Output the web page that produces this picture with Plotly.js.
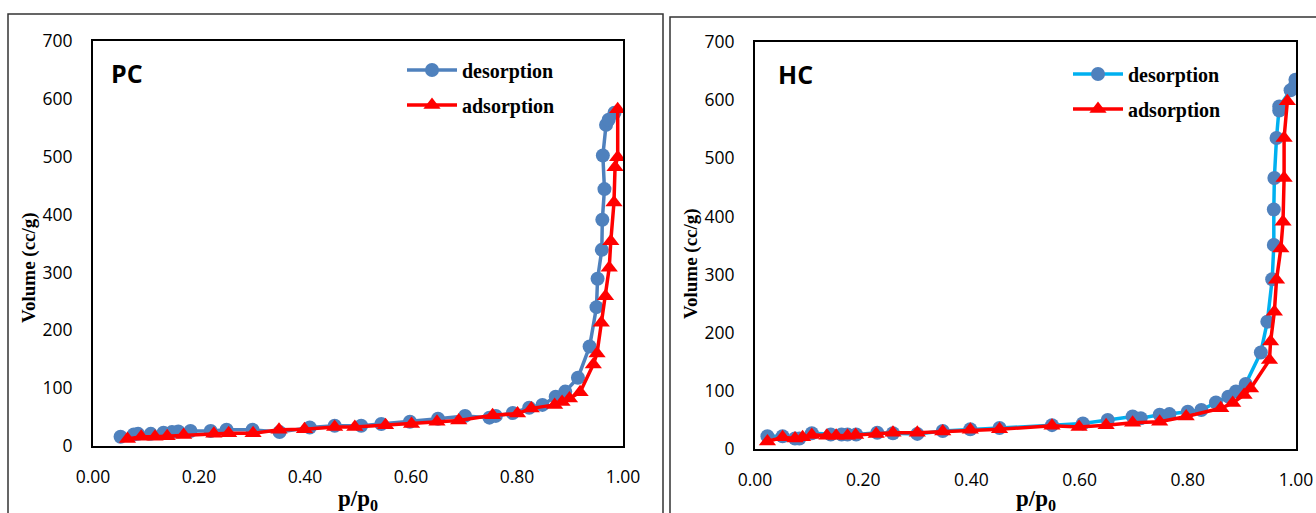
<!DOCTYPE html>
<html><head><meta charset="utf-8">
<script src="https://cdn.plot.ly/plotly-3.0.1.min.js"></script>
<style>html,body{margin:0;padding:0;background:#fff}#chart{width:1316px;height:513px}</style>
</head><body><div id="chart"></div>
<script>
// PC sample
const pcDesX = [0.052,0.077,0.085,0.109,0.133,0.149,0.161,0.184,0.222,0.252,0.301,0.352,0.409,0.456,0.506,0.544,0.598,0.651,0.702,0.748,0.760,0.792,0.823,0.848,0.873,0.891,0.915,0.937,0.950,0.952,0.960,0.961,0.965,0.962,0.968,0.973,0.984];
const pcDesV = [16,20,21,21,23,24,25,26,26,28,28,24,32,35,35,38,42,47,52,49,52,57,66,71,85,94,118,172,240,289,339,391,444,502,555,564,576];
const pcAdsX = [0.065,0.091,0.117,0.140,0.171,0.228,0.256,0.302,0.351,0.399,0.456,0.494,0.552,0.601,0.649,0.690,0.754,0.801,0.827,0.871,0.885,0.899,0.919,0.944,0.951,0.959,0.967,0.974,0.977,0.983,0.985,0.990,0.990];
const pcAdsV = [12,16,16,17,19,21,22,22,28,29,33,33,36,38,42,44,53,56,65,71,76,82,93,141,160,213,259,308,354,421,482,499,582];
// HC sample
const hcDesX = [0.023,0.051,0.074,0.082,0.105,0.140,0.160,0.171,0.187,0.226,0.255,0.300,0.347,0.398,0.452,0.549,0.606,0.652,0.698,0.713,0.748,0.766,0.800,0.825,0.852,0.875,0.889,0.907,0.935,0.947,0.956,0.959,0.959,0.960,0.964,0.969,0.969,0.990,0.998,0.999];
const hcDesV = [22,22,18,18,27,25,25,25,25,28,27,26,31,34,36,41,44,50,56,53,59,60,64,67,80,90,99,112,166,219,292,351,412,466,535,582,589,617,625,635];
const hcAdsX = [0.023,0.051,0.074,0.088,0.105,0.133,0.150,0.171,0.186,0.224,0.255,0.300,0.347,0.398,0.452,0.549,0.599,0.649,0.698,0.748,0.797,0.861,0.883,0.904,0.916,0.951,0.953,0.960,0.964,0.972,0.976,0.978,0.978,0.984];
const hcAdsV = [13,20,18,20,24,23,23,23,24,26,28,28,30,33,34,40,38,41,45,47,56,70,79,93,104,153,185,236,291,345,391,466,535,598];

const seriesNames = ['desorption','adsorption'];
const panelLabels = ['PC','HC'];
const xTitle = 'p/p<sub>0</sub>';
const yTitle = 'Volume (cc/g)';

const W = 1316, H = 513;
const px = v => v / W, py = v => (H - v) / H;

const blue = '#4F81BD', cyan = '#00B0F0', red = '#FF0000';
const legFont = {family:'Liberation Serif, serif', size:20, color:'#000', weight:'bold'};

const traces = [
  {x:pcDesX, y:pcDesV, xaxis:'x', yaxis:'y', name:seriesNames[0], mode:'lines+markers',
   line:{color:blue,width:3.5}, marker:{symbol:'circle',size:14,color:blue}, legend:'legend'},
  {x:pcAdsX, y:pcAdsV, xaxis:'x', yaxis:'y', name:seriesNames[1], mode:'lines+markers',
   line:{color:red,width:3.5}, marker:{symbol:'triangle-up',size:15,color:red}, legend:'legend2'},
  {x:hcDesX, y:hcDesV, xaxis:'x2', yaxis:'y2', name:seriesNames[0], mode:'lines+markers',
   line:{color:cyan,width:3.5}, marker:{symbol:'circle',size:14,color:blue}, legend:'legend3'},
  {x:hcAdsX, y:hcAdsV, xaxis:'x2', yaxis:'y2', name:seriesNames[1], mode:'lines+markers',
   line:{color:red,width:3.5}, marker:{symbol:'triangle-up',size:15,color:red}, legend:'legend4'}
];

const tickFont = {family:'Open Sans, sans-serif', size:17.5, color:'#000'};
function xAx(dom){return {domain:dom, range:[0,1], dtick:0.2, tick0:0, tickformat:'.2f', showgrid:false, zeroline:false,
  showline:true, mirror:true, linecolor:'#000', linewidth:2, ticks:'', ticklabelstandoff:14, tickfont:tickFont, fixedrange:true};}
function yAx(dom, anchor){return {domain:dom, range:[0,700], dtick:100, showgrid:false, zeroline:false, anchor:anchor,
  showline:true, mirror:true, linecolor:'#000', linewidth:2, ticks:'', ticklabelstandoff:15, tickfont:tickFont, fixedrange:true};}

function leg(xp, yp){return {x:px(xp), y:py(yp), xanchor:'left', yanchor:'middle', bgcolor:'rgba(0,0,0,0)', font:legFont, borderwidth:0, itemwidth:50};}

const layout = {
  width:W, height:H, margin:{l:0,r:0,t:0,b:0}, paper_bgcolor:'#fff', plot_bgcolor:'#fff', showlegend:true,
  xaxis: Object.assign(xAx([px(93), px(623)]), {anchor:'y'}),
  yaxis: yAx([67/H, 472/H], 'x'),
  xaxis2: Object.assign(xAx([px(755), px(1296)]), {anchor:'y2'}),
  yaxis2: yAx([64/H, 471/H], 'x2'),
  legend: leg(402, 70), legend2: leg(402, 105), legend3: leg(1068, 74), legend4: leg(1068, 109),
  shapes:[
    {type:'rect', xref:'paper', yref:'paper', x0:px(8), x1:px(663), y0:py(14), y1:py(530), line:{color:'#333',width:1.5}, layer:'below'},
    {type:'rect', xref:'paper', yref:'paper', x0:px(670), x1:px(1330), y0:py(17), y1:py(530), line:{color:'#333',width:1.5}, layer:'below'}
  ],
  annotations:[
    {text:panelLabels[0], xref:'paper', yref:'paper', x:px(109), y:py(73), xanchor:'left', yanchor:'middle', showarrow:false,
     font:{family:'Open Sans, sans-serif', size:25, weight:'bold', color:'#000'}},
    {text:panelLabels[1], xref:'paper', yref:'paper', x:px(776), y:py(74), xanchor:'left', yanchor:'middle', showarrow:false,
     font:{family:'Open Sans, sans-serif', size:25, weight:'bold', color:'#000'}},
    {text:yTitle, xref:'paper', yref:'paper', x:px(29), y:py(268), textangle:-90, showarrow:false, xanchor:'center', yanchor:'middle',
     font:{family:'Liberation Serif, serif', size:19, weight:'bold', color:'#000'}},
    {text:yTitle, xref:'paper', yref:'paper', x:px(691), y:py(264), textangle:-90, showarrow:false, xanchor:'center', yanchor:'middle',
     font:{family:'Liberation Serif, serif', size:19, weight:'bold', color:'#000'}},
    {text:xTitle, xref:'paper', yref:'paper', x:px(358), y:py(500), showarrow:false, xanchor:'center', yanchor:'middle',
     font:{family:'Liberation Serif, serif', size:23, weight:'bold', color:'#000'}},
    {text:xTitle, xref:'paper', yref:'paper', x:px(1036), y:py(500), showarrow:false, xanchor:'center', yanchor:'middle',
     font:{family:'Liberation Serif, serif', size:23, weight:'bold', color:'#000'}}
  ]
};

Plotly.newPlot('chart', traces, layout, {displayModeBar:false, staticPlot:true});
</script></body></html>
